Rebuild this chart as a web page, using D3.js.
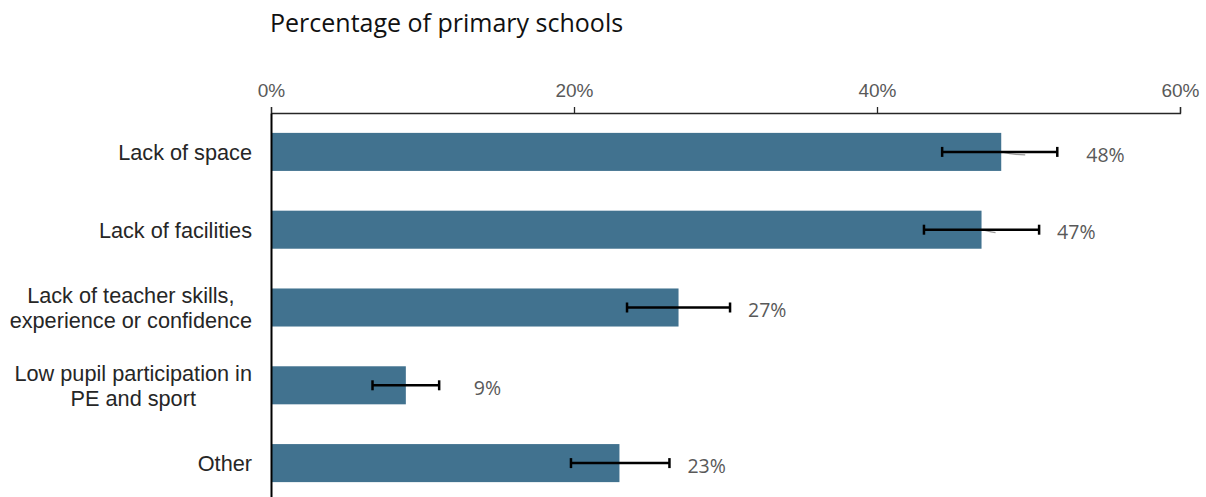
<!DOCTYPE html>
<html>
<head>
<meta charset="utf-8">
<script src="https://cdn.jsdelivr.net/npm/d3@7"></script>
<style>
  html, body { margin: 0; padding: 0; background: #fff; }
  svg { display: block; }
</style>
</head>
<body>
<svg id="chart" width="1206" height="497"></svg>
<script>
// ---- data ----
const categories = [
  ["Lack of space"],
  ["Lack of facilities"],
  ["Lack of teacher skills,", "experience or confidence"],
  ["Low pupil participation in", "PE and sport"],
  ["Other"]
];
const values    = [48.2, 46.9, 26.9, 8.9, 23.0];
const errLow    = [44.3, 43.1, 23.5, 6.7, 19.8];
const errHigh   = [51.9, 50.7, 30.3, 11.1, 26.3];
const valueLabels = ["48%", "47%", "27%", "9%", "23%"];
const tickValues = [0, 20, 40, 60];
const tickLabels = ["0%", "20%", "40%", "60%"];
const title = "Percentage of primary schools";

(function () {
// ---- layout ----
const svg = d3.select("#chart");
const mLeft = 271, mRight = 1180, mTop = 113, mBottom = 502;
const barColor = "#41728f";
const ids = categories.map((c, i) => i);

const x = d3.scaleLinear().domain([0, 60]).range([mLeft, mRight]);
const y = d3.scaleBand().domain(ids).range([mTop, mBottom])
  .paddingInner(0.511).paddingOuter(0.2555);

// title
svg.append("text")
  .attr("x", 270).attr("y", 32)
  .attr("font-family", "'Open Sans', sans-serif")
  .attr("font-size", 25)
  .attr("fill", "#111")
  .text(title);

// bars
svg.append("g").selectAll("rect").data(ids).join("rect")
  .attr("x", x(0))
  .attr("y", i => y(i))
  .attr("width", i => x(values[i]) - x(0))
  .attr("height", y.bandwidth())
  .attr("fill", barColor);

// leader lines (faint, as in reference)
svg.append("g").selectAll("path").data([0, 1]).join("path")
  .attr("d", i => {
    const cy = y(i) + y.bandwidth() / 2;
    const x0 = x(values[i]);
    return `M${x0},${cy} Q${x0 + 12},${cy + 3} ${x0 + 24 - i * 10},${cy + 3}`;
  })
  .attr("fill", "none").attr("stroke", "#9a9a9a").attr("stroke-width", 1.2);

// error bars
const eg = svg.append("g").attr("stroke", "#000").attr("stroke-width", 2.5);
ids.forEach(i => {
  const cy = y(i) + y.bandwidth() / 2;
  eg.append("line").attr("x1", x(errLow[i])).attr("x2", x(errHigh[i]))
    .attr("y1", cy).attr("y2", cy);
  [errLow[i], errHigh[i]].forEach(v => {
    eg.append("line").attr("x1", x(v)).attr("x2", x(v))
      .attr("y1", cy - 5).attr("y2", cy + 5);
  });
});

// value labels
svg.append("g").selectAll("text").data(ids).join("text")
  .attr("x", i => Math.max(x(values[i]) + 68, x(errHigh[i]) + 18 + (i === 0 ? 11 : 0)))
  .attr("y", i => y(i) + y.bandwidth() / 2)
  .attr("dy", "0.5em")
  .attr("font-family", "'Open Sans', sans-serif")
  .attr("font-size", 19.5)
  .attr("fill", "#595959")
  .text(i => valueLabels[i]);

// top axis
const axisTop = d3.axisTop(x).tickValues(tickValues)
  .tickFormat((d, i) => tickLabels[i]).tickSize(6).tickSizeOuter(6).tickPadding(10);
const ga = svg.append("g").attr("transform", `translate(0,${mTop})`).call(axisTop);
ga.select(".domain").attr("stroke", "#262626").attr("stroke-width", 1.3);
ga.selectAll(".tick line").attr("stroke", "#262626").attr("stroke-width", 1.3);
ga.selectAll(".tick text")
  .attr("font-family", "'Liberation Sans', Arial, sans-serif")
  .attr("font-size", 19)
  .attr("fill", "#595959");

// left axis (line only)
const axisLeft = d3.axisLeft(y).tickSize(0).tickFormat("");
const gl = svg.append("g").attr("transform", `translate(${mLeft},0)`).call(axisLeft);
gl.select(".domain").attr("stroke", "#000").attr("stroke-width", 2);

// category labels
const labelRight = 252;
const cg = svg.append("g")
  .attr("font-family", "'Liberation Sans', Arial, sans-serif")
  .attr("font-size", 21.7)
  .attr("fill", "#262626");
ids.forEach(i => {
  const lines = categories[i];
  const cy = y(i) + y.bandwidth() / 2;
  const t = cg.append("text").attr("text-anchor", "middle");
  const spans = lines.map((ln, k) => t.append("tspan")
    .attr("y", cy + (k - (lines.length - 1) / 2) * 25)
    .attr("dy", "0.36em")
    .text(ln));
  const w = d3.max(spans, s => s.node().getComputedTextLength());
  spans.forEach(s => s.attr("x", labelRight - w / 2));
});
})();
</script>
</body>
</html>
